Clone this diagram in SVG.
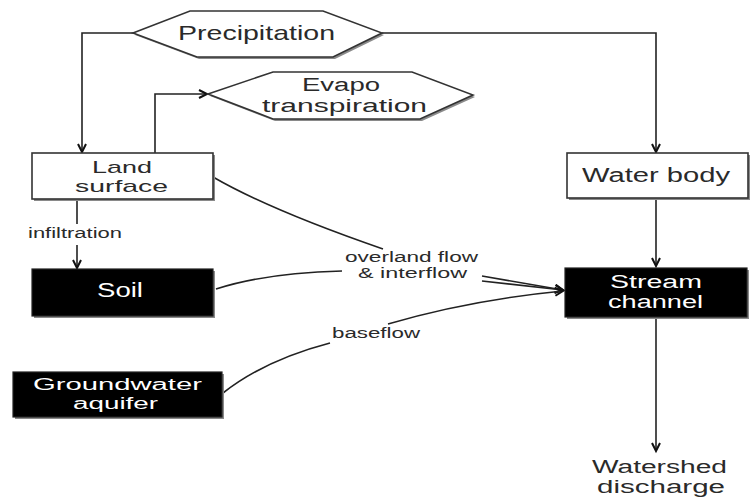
<svg xmlns="http://www.w3.org/2000/svg" width="751" height="497" viewBox="0 0 751 497">
<style>
text{font-family:"Liberation Sans",Arial,sans-serif;fill:#2a2a2a}
.lab{font-size:14px}
.wt{fill:#ffffff}
.box{fill:#ffffff;stroke:#333;stroke-width:1.6}
.blk{fill:#000;stroke:#222;stroke-width:1.2}
.shd{fill:#8a8a8a}
.hex{fill:#ffffff;stroke:#333;stroke-width:1.6}
.c{fill:none;stroke:#222;stroke-width:1.6}
</style>
<defs>
<marker id="ah" markerUnits="userSpaceOnUse" markerWidth="12" markerHeight="12" refX="9" refY="5" orient="auto">
<path d="M1,1 L9,5 L1,9" fill="none" stroke="#111" stroke-width="2"/>
</marker>
</defs>
<rect width="751" height="497" fill="#ffffff"/>

<g id="connectors">
<path class="c" d="M133,33 H82 V152" marker-end="url(#ah)"/>
<path class="c" d="M155,153 V94 H207" marker-end="url(#ah)"/>
<path class="c" d="M382,33 H656 V152" marker-end="url(#ah)"/>
<path class="c" d="M77,199 V224"/>
<path class="c" d="M77,245 V268" marker-end="url(#ah)"/>
<path class="c" d="M656,198 V266" marker-end="url(#ah)"/>
<path class="c" d="M656,317 V451" marker-end="url(#ah)"/>
<path class="c" d="M213,177 Q270,210 383,249"/>
<path class="c" d="M482,276 L563,290" marker-end="url(#ah)"/>
<path class="c" d="M216,289 Q265,273 342,271"/>
<path class="c" d="M482,281 L563,290" marker-end="url(#ah)"/>
<path class="c" d="M223,393 Q265,360 330,343"/>
<path class="c" d="M388,324 Q470,300 563,291" marker-end="url(#ah)"/>
<text class="lab" x="28" y="238" textLength="94" lengthAdjust="spacingAndGlyphs">infiltration</text>
<text class="lab" x="345" y="262" textLength="133" lengthAdjust="spacingAndGlyphs">overland flow</text>
<text class="lab" x="358" y="278" textLength="109" lengthAdjust="spacingAndGlyphs">&amp; interflow</text>
<text class="lab" x="332" y="338" textLength="88" lengthAdjust="spacingAndGlyphs">baseflow</text>
</g>

<g id="precipitation">
<polygon class="shd" points="135,35 192,13 325,13 384,35 335,59 199,59"/>
<polygon class="hex" points="133,33 190,11 323,11 382,33 333,57 197,57"/>
<text x="178" y="40" font-size="21" textLength="157" lengthAdjust="spacingAndGlyphs">Precipitation</text>
</g>

<g id="evapotranspiration">
<polygon class="shd" points="210,96 275,74 414,74 475,97 422,121 275,121"/>
<polygon class="hex" points="208,94 273,72 412,72 473,95 420,119 273,119"/>
<text x="302" y="91" font-size="18" textLength="78" lengthAdjust="spacingAndGlyphs">Evapo</text>
<text x="262" y="112" font-size="18" textLength="165" lengthAdjust="spacingAndGlyphs">transpiration</text>
</g>

<g id="land-surface">
<rect class="shd" x="34" y="155" width="181" height="46"/>
<rect class="box" x="32" y="153" width="181" height="46"/>
<text x="92" y="173" font-size="17" textLength="60" lengthAdjust="spacingAndGlyphs">Land</text>
<text x="75" y="192" font-size="17" textLength="93" lengthAdjust="spacingAndGlyphs">surface</text>
</g>

<g id="water-body">
<rect class="shd" x="569" y="155" width="181" height="45"/>
<rect class="box" x="567" y="153" width="181" height="45"/>
<text x="582" y="182" font-size="20" textLength="148" lengthAdjust="spacingAndGlyphs">Water body</text>
</g>

<g id="soil">
<rect class="shd" x="34" y="271" width="181" height="47"/>
<rect class="blk" x="32" y="269" width="181" height="47"/>
<text class="wt" x="97" y="297" font-size="20" textLength="46" lengthAdjust="spacingAndGlyphs">Soil</text>
</g>

<g id="stream-channel">
<rect class="shd" x="567" y="270" width="182" height="49"/>
<rect class="blk" x="565" y="268" width="182" height="49"/>
<text class="wt" x="610" y="288" font-size="18" textLength="92" lengthAdjust="spacingAndGlyphs">Stream</text>
<text class="wt" x="608" y="308" font-size="18" textLength="95" lengthAdjust="spacingAndGlyphs">channel</text>
</g>

<g id="groundwater-aquifer">
<rect class="shd" x="15" y="374" width="209" height="45"/>
<rect class="blk" x="13" y="372" width="209" height="45"/>
<text class="wt" x="33" y="390" font-size="16" textLength="169" lengthAdjust="spacingAndGlyphs">Groundwater</text>
<text class="wt" x="73" y="409" font-size="16" textLength="85" lengthAdjust="spacingAndGlyphs">aquifer</text>
</g>

<g id="watershed-discharge">
<text x="592" y="473" font-size="18" textLength="135" lengthAdjust="spacingAndGlyphs">Watershed</text>
<text x="597" y="493" font-size="18" textLength="128" lengthAdjust="spacingAndGlyphs">discharge</text>
</g>
</svg>
